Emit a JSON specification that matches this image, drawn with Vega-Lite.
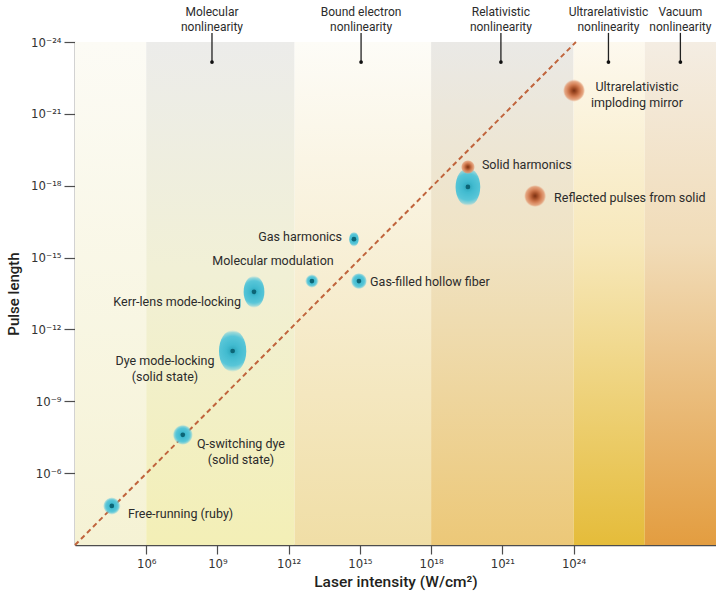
{
  "$schema": "https://vega.github.io/schema/vega-lite/v6.json",
  "width": 641,
  "height": 503,
  "autosize": {"type": "none"},
  "padding": {"left": 75, "top": 42, "right": 0, "bottom": 48},
  "background": "white",
  "config": {
    "font": "Roboto, sans-serif",
    "view": {"stroke": null}
  },
  "datasets": {
    "bands": [
      {"band": "b1", "from": 3, "to": 6, "top": -24, "bottom": -3},
      {"band": "b2", "from": 6, "to": 12.25, "top": -24, "bottom": -3},
      {"band": "b3", "from": 12.25, "to": 18, "top": -24, "bottom": -3},
      {"band": "b4", "from": 18, "to": 24, "top": -24, "bottom": -3},
      {"band": "b5", "from": 24, "to": 27, "top": -24, "bottom": -3},
      {"band": "b6", "from": 27, "to": 30, "top": -24, "bottom": -3}
    ],
    "diagonal": [
      {"intensity": 3, "pulse": -3},
      {"intensity": 24.1, "pulse": -24}
    ],
    "blobs": [
      {"name": "Free-running (ruby)", "type": "laser", "intensity": 4.55, "pulse": -4.63, "spread": 0.71, "form": "round"},
      {"name": "Q-switching dye", "type": "laser", "intensity": 7.54, "pulse": -7.6, "spread": 0.83, "form": "round"},
      {"name": "Dye mode-locking", "type": "laser", "intensity": 9.64, "pulse": -11.1, "spread": 1.75, "form": "tall"},
      {"name": "Kerr-lens mode-locking", "type": "laser", "intensity": 10.54, "pulse": -13.57, "spread": 1.33, "form": "tall"},
      {"name": "Molecular modulation", "type": "laser", "intensity": 12.98, "pulse": -14.02, "spread": 0.54, "form": "round"},
      {"name": "Gas harmonics", "type": "laser", "intensity": 14.75, "pulse": -15.77, "spread": 0.6, "form": "tall"},
      {"name": "Gas-filled hollow fiber", "type": "laser", "intensity": 14.96, "pulse": -14.02, "spread": 0.67, "form": "round"},
      {"name": "Solid-state amplifier", "type": "laser", "intensity": 19.55, "pulse": -17.95, "spread": 1.58, "form": "tall"},
      {"name": "Solid harmonics", "type": "plasma", "intensity": 19.55, "pulse": -18.78, "spread": 0.58, "form": "round"},
      {"name": "Reflected pulses from solid", "type": "plasma", "intensity": 22.38, "pulse": -17.57, "spread": 0.92, "form": "round"},
      {"name": "Ultrarelativistic imploding mirror", "type": "plasma", "intensity": 24.02, "pulse": -21.97, "spread": 0.92, "form": "round"}
    ],
    "labels": [
      {"label": "Free-running (ruby)", "anchor": "left", "lx": 5.23, "ly": -4.29},
      {"label": "Q-switching dye\n(solid state)", "anchor": "center", "lx": 9.99, "ly": -7.21},
      {"label": "Dye mode-locking\n(solid state)", "anchor": "center", "lx": 6.79, "ly": -10.68},
      {"label": "Kerr-lens mode-locking", "anchor": "right", "lx": 9.99, "ly": -13.14},
      {"label": "Molecular modulation", "anchor": "center", "lx": 11.34, "ly": -14.86},
      {"label": "Gas harmonics", "anchor": "right", "lx": 14.25, "ly": -15.86},
      {"label": "Gas-filled hollow fiber", "anchor": "left", "lx": 15.43, "ly": -13.98},
      {"label": "Solid harmonics", "anchor": "left", "lx": 20.14, "ly": -18.86},
      {"label": "Reflected pulses from solid", "anchor": "left", "lx": 23.18, "ly": -17.49},
      {"label": "Ultrarelativistic\nimploding mirror", "anchor": "center", "lx": 26.67, "ly": -22.12}
    ],
    "regions": [
      {"region": "Molecular\nnonlinearity", "at": 8.77},
      {"region": "Bound electron\nnonlinearity", "at": 15.05},
      {"region": "Relativistic\nnonlinearity", "at": 20.94},
      {"region": "Ultrarelativistic\nnonlinearity", "at": 25.47},
      {"region": "Vacuum\nnonlinearity", "at": 28.5}
    ]
  },
  "layer": [
    {
      "data": {"name": "bands"},
      "transform": [{"filter": "datum.band === 'b1'"}],
      "mark": {"type": "rect", "fill": {"gradient": "linear", "x1": 0, "y1": 0, "x2": 0, "y2": 1, "stops": [{"offset": 0, "color": "#fcfbf5"}, {"offset": 1, "color": "#f5f2d4"}]}},
      "encoding": {
        "x": {"field": "from", "type": "quantitative",
          "scale": {"domain": [3, 30], "nice": false, "zero": false},
          "axis": {"title": "Laser intensity (W/cm²)", "values": [6, 9, 12, 15, 18, 21, 24],
            "labelExpr": "datum.value == 6 ? '10⁶' : datum.value == 9 ? '10⁹' : datum.value == 12 ? '10¹²' : datum.value == 15 ? '10¹⁵' : datum.value == 18 ? '10¹⁸' : datum.value == 21 ? '10²¹' : '10²⁴'",
            "grid": false, "domainColor": "#4d4d4d", "domainWidth": 1.5, "tickColor": "#4d4d4d", "tickWidth": 1.2, "tickSize": 9,
            "labelFont": "DejaVu Sans Condensed", "labelFontSize": 13, "labelColor": "#333333", "labelPadding": 3, "labelFlush": false,
            "titleFontSize": 15.5, "titleColor": "#231f20", "titleFontWeight": 500, "titlePadding": 4}},
        "x2": {"field": "to"},
        "y": {"field": "top", "type": "quantitative",
          "scale": {"domain": [-24, -3], "reverse": true, "nice": false, "zero": false},
          "axis": {"title": "Pulse length", "values": [-24, -21, -18, -15, -12, -9, -6],
            "labelExpr": "datum.value == -24 ? '10⁻²⁴' : datum.value == -21 ? '10⁻²¹' : datum.value == -18 ? '10⁻¹⁸' : datum.value == -15 ? '10⁻¹⁵' : datum.value == -12 ? '10⁻¹²' : datum.value == -9 ? '10⁻⁹' : '10⁻⁶'",
            "grid": false, "domainColor": "#4d4d4d", "domainWidth": 1.5, "tickColor": "#4d4d4d", "tickWidth": 1.2, "tickSize": 11,
            "labelFont": "DejaVu Sans Condensed", "labelFontSize": 13, "labelColor": "#333333", "labelPadding": 3, "labelFlush": false,
            "titleFontSize": 15, "titleColor": "#231f20", "titleFontWeight": 500, "titlePadding": 9}},
        "y2": {"field": "bottom"}
      }
    },
    {
      "data": {"name": "bands"},
      "transform": [{"filter": "datum.band === 'b2'"}],
      "mark": {"type": "rect", "fill": {"gradient": "linear", "x1": 0, "y1": 0, "x2": 0, "y2": 1, "stops": [{"offset": 0, "color": "#ececea"}, {"offset": 0.45, "color": "#f1f0d6"}, {"offset": 1, "color": "#f3efb6"}]}},
      "encoding": {"x": {"field": "from", "type": "quantitative"}, "x2": {"field": "to"}, "y": {"field": "top", "type": "quantitative"}, "y2": {"field": "bottom"}}
    },
    {
      "data": {"name": "bands"},
      "transform": [{"filter": "datum.band === 'b3'"}],
      "mark": {"type": "rect", "fill": {"gradient": "linear", "x1": 0, "y1": 0, "x2": 0, "y2": 1, "stops": [{"offset": 0, "color": "#fdfcf7"}, {"offset": 0.4, "color": "#f8f0d8"}, {"offset": 1, "color": "#f0dea6"}]}},
      "encoding": {"x": {"field": "from", "type": "quantitative"}, "x2": {"field": "to"}, "y": {"field": "top", "type": "quantitative"}, "y2": {"field": "bottom"}}
    },
    {
      "data": {"name": "bands"},
      "transform": [{"filter": "datum.band === 'b4'"}],
      "mark": {"type": "rect", "fill": {"gradient": "linear", "x1": 0, "y1": 0, "x2": 0, "y2": 1, "stops": [{"offset": 0, "color": "#eae9e6"}, {"offset": 0.4, "color": "#f0e3c4"}, {"offset": 1, "color": "#ecc878"}]}},
      "encoding": {"x": {"field": "from", "type": "quantitative"}, "x2": {"field": "to"}, "y": {"field": "top", "type": "quantitative"}, "y2": {"field": "bottom"}}
    },
    {
      "data": {"name": "bands"},
      "transform": [{"filter": "datum.band === 'b5'"}],
      "mark": {"type": "rect", "fill": {"gradient": "linear", "x1": 0, "y1": 0, "x2": 0, "y2": 1, "stops": [{"offset": 0, "color": "#fdf9ef"}, {"offset": 0.4, "color": "#f7e8bb"}, {"offset": 1, "color": "#e5bc3a"}]}},
      "encoding": {"x": {"field": "from", "type": "quantitative"}, "x2": {"field": "to"}, "y": {"field": "top", "type": "quantitative"}, "y2": {"field": "bottom"}}
    },
    {
      "data": {"name": "bands"},
      "transform": [{"filter": "datum.band === 'b6'"}],
      "mark": {"type": "rect", "fill": {"gradient": "linear", "x1": 0, "y1": 0, "x2": 0, "y2": 1, "stops": [{"offset": 0, "color": "#f4ede3"}, {"offset": 0.4, "color": "#f1dcb8"}, {"offset": 1, "color": "#e39d40"}]}},
      "encoding": {"x": {"field": "from", "type": "quantitative"}, "x2": {"field": "to"}, "y": {"field": "top", "type": "quantitative"}, "y2": {"field": "bottom"}}
    },
    {
      "mark": {"type": "rect", "fill": {"gradient": "linear", "x1": 0, "y1": 0, "x2": 1, "y2": 0, "stops": [{"offset": 0, "color": "rgba(120,120,120,0)"}, {"offset": 1, "color": "rgba(120,120,120,0.3)"}]}},
      "encoding": {"x": {"datum": 2.58, "type": "quantitative"}, "x2": {"datum": 3}, "y": {"datum": -24, "type": "quantitative"}, "y2": {"datum": -3}}
    },
    {
      "mark": {"type": "rect", "fill": {"gradient": "linear", "x1": 0, "y1": 0, "x2": 0, "y2": 1, "stops": [{"offset": 0, "color": "rgba(120,120,120,0)"}, {"offset": 1, "color": "rgba(120,120,120,0.22)"}]}},
      "encoding": {"x": {"datum": 2.58, "type": "quantitative"}, "x2": {"datum": 30}, "y": {"datum": -24.3, "type": "quantitative"}, "y2": {"datum": -24}}
    },
    {
      "data": {"name": "diagonal"},
      "mark": {"type": "line", "color": "#c0643c", "strokeWidth": 2, "strokeDash": [5, 3.5]},
      "encoding": {"x": {"field": "intensity", "type": "quantitative"}, "y": {"field": "pulse", "type": "quantitative"}}
    },
    {
      "data": {"name": "blobs"},
      "transform": [{"filter": "datum.type === 'laser'"}],
      "mark": {"type": "point", "filled": true, "opacity": 1, "strokeWidth": 0,
        "fill": {"gradient": "radial", "x1": 0.5, "y1": 0.5, "r1": 0, "x2": 0.5, "y2": 0.5, "r2": 0.5,
          "stops": [{"offset": 0, "color": "#2aa3b8"}, {"offset": 0.3, "color": "#42bbd0"}, {"offset": 0.7, "color": "#58c6d8"}, {"offset": 0.88, "color": "rgba(105,203,220,0.65)"}, {"offset": 1, "color": "rgba(140,215,230,0)"}]}},
      "encoding": {
        "x": {"field": "intensity", "type": "quantitative"},
        "y": {"field": "pulse", "type": "quantitative"},
        "shape": {"field": "form", "type": "nominal", "legend": null,
          "scale": {"domain": ["round", "tall"], "range": ["M-1,0A1,1,0,1,0,1,0A1,1,0,1,0,-1,0Z", "M-0.65,0A0.65,1,0,1,0,0.65,0A0.65,1,0,1,0,-0.65,0Z"]}},
        "size": {"field": "spread", "type": "quantitative", "legend": null,
          "scale": {"type": "pow", "exponent": 2, "domain": [0, 2], "range": [0, 2304]}}
      }
    },
    {
      "data": {"name": "blobs"},
      "transform": [{"filter": "datum.type === 'laser'"}],
      "mark": {"type": "point", "filled": true, "opacity": 1, "color": "#0c6576", "size": 22, "shape": "circle"},
      "encoding": {"x": {"field": "intensity", "type": "quantitative"}, "y": {"field": "pulse", "type": "quantitative"}}
    },
    {
      "data": {"name": "blobs"},
      "transform": [{"filter": "datum.type === 'plasma'"}],
      "mark": {"type": "point", "filled": true, "opacity": 1, "strokeWidth": 0,
        "fill": {"gradient": "radial", "x1": 0.5, "y1": 0.5, "r1": 0, "x2": 0.5, "y2": 0.5, "r2": 0.5,
          "stops": [{"offset": 0, "color": "#7a3012"}, {"offset": 0.25, "color": "#a54f28"}, {"offset": 0.55, "color": "#d27c52"}, {"offset": 0.85, "color": "rgba(225,150,110,0.8)"}, {"offset": 1, "color": "rgba(235,175,140,0)"}]}},
      "encoding": {
        "x": {"field": "intensity", "type": "quantitative"},
        "y": {"field": "pulse", "type": "quantitative"},
        "shape": {"field": "form", "type": "nominal", "legend": null},
        "size": {"field": "spread", "type": "quantitative", "legend": null}
      }
    },
    {
      "data": {"name": "labels"},
      "transform": [{"filter": "datum.anchor === 'left'"}],
      "mark": {"type": "text", "align": "left", "baseline": "middle", "fontSize": 12.5, "color": "#2b2b2b", "lineBreak": "\n", "lineHeight": 16},
      "encoding": {"x": {"field": "lx", "type": "quantitative"}, "y": {"field": "ly", "type": "quantitative"}, "text": {"field": "label"}}
    },
    {
      "data": {"name": "labels"},
      "transform": [{"filter": "datum.anchor === 'right'"}],
      "mark": {"type": "text", "align": "right", "baseline": "middle", "fontSize": 12.5, "color": "#2b2b2b", "lineBreak": "\n", "lineHeight": 16},
      "encoding": {"x": {"field": "lx", "type": "quantitative"}, "y": {"field": "ly", "type": "quantitative"}, "text": {"field": "label"}}
    },
    {
      "data": {"name": "labels"},
      "transform": [{"filter": "datum.anchor === 'center'"}],
      "mark": {"type": "text", "align": "center", "baseline": "middle", "fontSize": 12.5, "color": "#2b2b2b", "lineBreak": "\n", "lineHeight": 16},
      "encoding": {"x": {"field": "lx", "type": "quantitative"}, "y": {"field": "ly", "type": "quantitative"}, "text": {"field": "label"}}
    },
    {
      "mark": {"type": "rule", "color": "#4d4d4d", "strokeWidth": 1.5},
      "encoding": {"y": {"datum": -24, "type": "quantitative"}}
    },
    {
      "data": {"name": "regions"},
      "mark": {"type": "rule", "color": "#222222", "strokeWidth": 1.3},
      "encoding": {"x": {"field": "at", "type": "quantitative"}, "y": {"datum": -24.38, "type": "quantitative"}, "y2": {"datum": -23.16}}
    },
    {
      "data": {"name": "regions"},
      "mark": {"type": "point", "filled": true, "opacity": 1, "color": "#111111", "size": 14, "shape": "circle"},
      "encoding": {"x": {"field": "at", "type": "quantitative"}, "y": {"datum": -23.16, "type": "quantitative"}}
    },
    {
      "data": {"name": "regions"},
      "mark": {"type": "text", "align": "center", "baseline": "middle", "dy": -30, "fontSize": 12, "color": "#2b2b2b", "lineBreak": "\n", "lineHeight": 15},
      "encoding": {"x": {"field": "at", "type": "quantitative"}, "y": {"datum": -24, "type": "quantitative"}, "text": {"field": "region"}}
    }
  ]
}
